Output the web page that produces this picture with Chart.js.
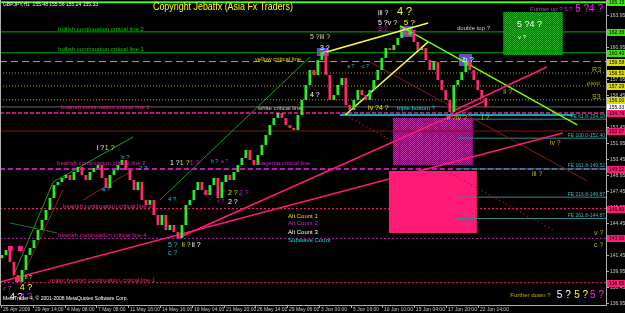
<!DOCTYPE html>
<html>
<head>
<meta charset="utf-8">
<script src="https://cdn.jsdelivr.net/npm/chart.js@4.4.1/dist/chart.umd.min.js"></script>
<style>
  html, body { margin: 0; padding: 0; background: #000; }
</style>
</head>
<body>
<canvas id="chart" width="625" height="313"></canvas>
<script>
// GBPJPY H1, one close every 8 bars (bar 0 = 26 Apr 2009)
const firstBar = 2
const barStep = 8.05
const closes = [
  141.45, 141.92, 140.79, 139.57, 138.92, 140.04, 141.45, 142.10, 142.85, 143.79,
  144.73, 145.67, 146.79, 148.01, 148.29, 148.67, 148.95, 148.48, 149.23, 149.70,
  148.95, 148.48, 149.23, 149.60, 149.88, 148.67, 147.73, 148.95, 149.41, 149.88,
  150.35, 149.41, 148.48, 147.54, 148.29, 146.60, 146.13, 146.60, 145.20, 144.26,
  145.20, 143.79, 144.26, 143.60, 143.04, 144.26, 146.13, 146.60, 147.54, 148.29,
  147.54, 147.07, 148.01, 148.67, 146.79, 148.29, 148.95, 148.48, 149.23, 149.88,
  150.54, 151.29, 150.35, 149.88, 150.82, 151.76, 152.70, 153.63, 154.29, 154.76,
  154.29, 153.63, 153.35, 153.16, 154.57, 155.98, 157.38, 158.79, 158.32, 159.72,
  160.47, 158.32, 155.98, 156.44, 157.38, 158.04, 155.51, 155.04, 155.98, 156.91,
  156.44, 155.98, 156.91, 157.85, 158.79, 159.91, 160.85, 160.66, 161.13, 161.79,
  162.35, 162.07, 162.54, 161.41, 160.66, 160.85, 159.72, 158.79, 159.54, 157.85,
  156.91, 155.98, 154.85, 157.38, 157.85, 158.60, 159.54, 158.79, 157.85, 156.91,
  156.16, 155.32
]

const timeTicks = [0, 64, 128, 192, 256, 320, 384, 448, 512, 576, 640, 704, 768, 832, 896, 960]
const timeLabels = ['26 Apr 2009', '29 Apr 14:00', '4 May 08:00', '7 May 08:00', '11 May 16:00',
  '14 May 16:00', '19 May 04:00', '21 May 20:00', '26 May 14:00', '29 May 06:00', '3 Jun 00:00',
  '5 Jun 16:00', '10 Jun 10:00', '15 Jun 04:00', '17 Jun 20:00', '22 Jun 14:00']

const priceTicks = [136.95, 138.45, 139.95, 141.45, 142.95, 144.45, 145.95, 147.45, 148.95, 150.45,
  151.95, 153.45, 154.95, 156.45, 157.95, 159.45, 160.95, 162.45, 163.95]
const priceTickLabels = ['136.95', '138.45', '139.95', '141.45', '142.95', '144.45', '145.95', '147.45',
  '148.95', '150.45', '151.95', '153.45', '154.95', '156.45', '157.95', '159.45', '160.95', '162.45', '163.95']

// horizontal levels across the whole chart
const levelPrices = [165.15, 162.36, 160.40, 159.58, 158.51, 157.29, 156.00, 155.33, 154.76, 153.07, 149.52, 145.80, 143.00, 138.85]
const levelStyles = [
  ['#33ff00', 2, []], ['#00b000', 1, []], ['#00b000', 1, []], ['#b5b500', 1, [7, 4]],
  ['#a8a800', 1, [1, 2]], ['#a8a800', 1, [1, 2]], ['#a8a800', 1, [1, 2]], ['#5a6a6a', 1, []],
  ['#ff1a8c', 1.5, [4, 2]], ['#8b1010', 1, []], ['#b020b0', 2, [5, 3]], ['#ff1a75', 1, [2, 2]],
  ['#b020a0', 1, [2, 2]], ['#ff1a75', 1, [2, 2]]
]
const levelBoxColors = ['#44ee11', '#44dd11', '#44dd11', '#dddd00', '#dddd00', '#dddd00', '#dddd00',
  '#ffffff', '#ff1a75', '#ff1a75', '#ff1a75', '#ff1a75', '#ff1a75', '#ff1a75']

// fibonacci expansion levels (start bar, price)
const feStarts = [950, 920, 918, 918, 918]
const fePrices = [154.18, 152.40, 149.52, 146.87, 144.87]
const feLabels = ['FE 61.8-154.18', 'FE 100.0-152.40', 'FE 161.8-149.52', 'FE 216.8-146.87', 'FE 261.8-144.87']

// trend lines: bar1, price1, bar2, price2
const trendLines = [
  [356, 143.04, 974, 155.88], [-2, 138.92, 1131, 152.89], [910, 154.95, 1099, 159.07],
  [803, 162.92, 1160, 153.64], [648, 160.38, 860, 163.20], [693, 154.57, 860, 161.42],
  [743, 159.54, 1180, 148.39], [693, 154.57, 1111, 143.79], [320, 146.60, 622, 160.01],
  [380, 144.54, 612, 156.26], [105, 148.29, 266, 152.51], [24, 139.39, 105, 148.29],
  [38, 139.01, 125, 147.54], [165, 146.60, 266, 149.41], [18, 144.45, 113, 143.51],
  [682, 154.57, 1152, 154.57]
]
const trendStyles = [
  ['#ff1a75', 1.5, []], ['#ff1a75', 1.5, []], ['#ff1a75', 1.5, []],
  ['#7cfc00', 1.5, []], ['#ffff33', 1.5, []], ['#ffff33', 1.5, []],
  ['#8b1a1a', 1, []], ['#a02020', 1.5, [1, 3]], ['#1a9c1a', 1, []],
  ['#a02020', 1, [1, 2]], ['#1a9c1a', 1, []], ['#1a9c1a', 1, []],
  ['#8b2a1a', 1, []], ['#8b2a1a', 1, []], ['#1a7a1a', 1, []],
  ['#00e5ff', 1.5, []]
]

// rectangles: bar1, price1, bar2, price2
const boxes = [
  [1011, 164.23, 1131, 160.20], [789, 154.29, 950, 149.89], [781, 149.33, 958, 143.51],
  [636, 160.85, 660, 160.10], [803, 162.92, 829, 161.88], [922, 160.29, 948, 159.16],
  [14, 142.29, 24, 141.82], [34, 142.29, 44, 141.82], [28, 139.39, 38, 138.92]
]
const boxFills = ['greenHatch', 'magentaHatch', '#ff1a75', '#5a4fcf', '#5a4fcf', '#5a4fcf', '#ff1a8c', '#ff1a8c', '#ff1a8c']

// text objects: text, bar, price, colour, font size
const notes = [
  ['GBPJPY,H1  155.48 155.56 155.24 155.33', 4, 164.88, '#ffffff', 5],
  ['Copyright Jebatfx (Asia Fx Traders)', 306, 164.70, '#ffff00', 10, 140],
  ['bullish continuation critical line 2', 115, 162.63, '#00cc00', 6],
  ['bullish continuation critical line 1', 115, 160.76, '#00cc00', 6],
  ['yellow critical line', 511, 159.82, '#d8d800', 6],
  ['bearish continuation critical line 1', 121, 155.32, '#e6208a', 6],
  ['white critical line', 517, 155.23, '#c8c8c8', 6],
  ['bearish continuation critical line 2', 113, 150.07, '#e020a8', 6],
  ['magenta critical line', 515, 150.07, '#d020d0', 6],
  ['bearish continuation critical line 3', 125, 146.04, '#ff2090', 6],
  ['bearish continuation critical line 4', 115, 143.32, '#e020a8', 6],
  ['major bearish continuation critical line 1', 99, 139.11, '#ff2080', 6],
  ['triple bottom ?', 797, 155.23, '#00e0ff', 6],
  ['iv ?4 ?', 739, 155.23, '#e0e000', 7],
  ['double top ?', 918, 162.73, '#d0d0d0', 6],
  ['Further up ? 5 ?', 1065, 164.51, '#c040c0', 6],
  ['5 ?4 ?', 1156, 164.51, '#ff20ff', 10],
  ['5 ?4 ?', 1039, 163.01, '#ffffff', 9],
  ['v ?', 1041, 161.88, '#ffffff', 6],
  ['b ?', 930, 159.73, '#ffffff', 8],
  ['R3', 1190, 158.79, '#b8b800', 7],
  ['pivot', 1180, 157.57, '#b8b800', 6],
  ['S3', 1190, 156.26, '#b8b800', 7],
  ['ii ?', 1011, 156.73, '#b8b800', 7],
  ['ii ?iv ?', 898, 154.29, '#c8c800', 7],
  ['i ?', 968, 154.29, '#c8c800', 7],
  ['iv ?', 1105, 151.95, '#b8b800', 7],
  ['iii ?', 1069, 149.04, '#b8b800', 7],
  ['v ?', 1194, 143.51, '#b8b800', 7],
  ['c ?', 1194, 142.39, '#b8b800', 7],
  ['Further down ?', 1025, 137.70, '#b8b800', 6],
  ['5 ?', 1119, 137.70, '#ffffff', 10],
  ['5 ?', 1154, 137.70, '#ffff00', 10],
  ['5 ?', 1186, 137.70, '#ff20ff', 10],
  ['Alt Count 1', 578, 145.11, '#e0e000', 6],
  ['Alt Count 2', 578, 144.45, '#d020d0', 6],
  ['Alt Count 3', 578, 143.61, '#ffffff', 6],
  ['Subwave Count', 578, 142.86, '#00e0e0', 6],
  ['iii ?', 759, 164.13, '#ffffff', 7],
  ['4 ?', 797, 164.23, '#ffff00', 11],
  ['5 ?v ?', 759, 163.20, '#ffffff', 7],
  ['5 ?', 811, 163.20, '#ffff00', 8],
  ['3 ?', 759, 162.63, '#d020d0', 7],
  ['5 ?iii ?', 622, 161.88, '#d8d8a0', 7],
  ['3 ?', 642, 160.85, '#ffffff', 7],
  ['4 ?', 622, 156.45, '#ffffff', 7],
  ['a ?', 697, 159.07, '#20c0e0', 5],
  ['c ?', 727, 159.07, '#20c0e0', 5],
  ['i ?', 193, 151.48, '#ffffff', 7],
  ['1 ?', 209, 151.48, '#e0e000', 7],
  ['b ?', 242, 150.64, '#20c0e0', 6],
  ['2 ?', 278, 149.60, '#20c0e0', 6],
  ['a ?', 203, 147.64, '#20c0e0', 6],
  ['1 ?', 340, 150.07, '#ffffff', 7],
  ['1 ?', 360, 150.07, '#e0e000', 7],
  ['1 ?', 380, 150.07, '#d020d0', 7],
  ['4 ?', 336, 146.70, '#20c0e0', 6],
  ['a ?', 407, 147.17, '#d020d0', 5],
  ['b ?', 423, 150.17, '#20c0e0', 5],
  ['a ?', 443, 150.17, '#d020d0', 5],
  ['2 ?', 457, 147.26, '#e0e000', 7],
  ['2 ?', 479, 147.26, '#d020d0', 7],
  ['c ?', 435, 146.42, '#d020d0', 5],
  ['2 ?', 457, 146.42, '#ffffff', 7],
  ['5 ?', 336, 142.39, '#20c0e0', 7],
  ['ii ?', 364, 142.39, '#e0e000', 7],
  ['ii ?', 384, 142.39, '#ffffff', 7],
  ['c ?', 336, 141.64, '#20c0e0', 7],
  ['b ?', 48, 139.29, '#e0e000', 5],
  ['c ?', 4, 138.36, '#d020d0', 6],
  ['4 ?', 38, 138.36, '#ffff00', 9],
  ['4 ?', 18, 137.51, '#ffffff', 9],
  ['4 ?', 38, 137.51, '#d020d0', 9],
  ['MetaTrader 4, \u00a9 2001-2008 MetaQuotes Software Corp.', 4, 137.32, '#ffffff', 5]
]

const FONT = "'Liberation Sans', Arial, sans-serif"
const upColor = '#2eea2e'
const downColor = '#ff2a68'

function checker (ctx, a, b) {
  const c = document.createElement('canvas')
  c.width = 2
  c.height = 2
  const g = c.getContext('2d')
  g.fillStyle = a
  g.fillRect(0, 0, 2, 2)
  g.fillStyle = b
  g.fillRect(0, 0, 1, 1)
  g.fillRect(1, 1, 1, 1)
  return ctx.createPattern(c, 'repeat')
}

const overlay = {
  id: 'overlay',
  beforeDraw (chart) {
    const ctx = chart.ctx
    ctx.save()
    ctx.fillStyle = '#000'
    ctx.fillRect(0, 0, chart.width, chart.height)
    ctx.restore()
  },
  beforeDatasetsDraw (chart) {
    const { ctx, scales: { x, y } } = chart
    const hatch = {
      greenHatch: checker(ctx, '#0e6a0e', '#22a822'),
      magentaHatch: checker(ctx, '#5a1060', '#b5289d')
    }
    ctx.save()
    boxes.forEach((b, i) => {
      const x1 = x.getPixelForValue(b[0])
      const x2 = x.getPixelForValue(b[2])
      const y1 = y.getPixelForValue(b[1])
      const y2 = y.getPixelForValue(b[3])
      ctx.fillStyle = hatch[boxFills[i]] || boxFills[i]
      ctx.fillRect(x1, y1, x2 - x1, y2 - y1)
    })
    ctx.restore()
  },
  afterDatasetsDraw (chart) {
    const { ctx, scales: { x, y } } = chart
    ctx.save()
    ctx.textBaseline = 'middle'
    ctx.textAlign = 'left'
    notes.forEach(n => {
      ctx.font = n[4] + 'px ' + FONT
      ctx.fillStyle = n[3]
      if (n[5]) ctx.fillText(n[0], x.getPixelForValue(n[1]), y.getPixelForValue(n[2]), n[5])
      else ctx.fillText(n[0], x.getPixelForValue(n[1]), y.getPixelForValue(n[2]))
    })
    ctx.textAlign = 'right'
    ctx.font = '5px ' + FONT
    ctx.fillStyle = '#3fb5b5'
    feLabels.forEach((t, i) => {
      ctx.fillText(t, chart.chartArea.right - 1, y.getPixelForValue(fePrices[i]) - 3)
    })
    ctx.restore()
  },
  afterDraw (chart) {
    const { ctx, chartArea: { left, right, top, bottom }, scales: { x, y } } = chart
    ctx.save()
    ctx.strokeStyle = '#b0b0b0'
    ctx.lineWidth = 1
    ctx.beginPath()
    ctx.moveTo(left + 0.5, top)
    ctx.lineTo(left + 0.5, bottom + 0.5)
    ctx.lineTo(right + 0.5, bottom + 0.5)
    ctx.lineTo(right + 0.5, top)
    ctx.stroke()

    ctx.font = '5px ' + FONT
    ctx.fillStyle = '#c8c8c8'
    ctx.textBaseline = 'middle'
    ctx.textAlign = 'left'
    priceTicks.forEach((p, i) => {
      const py = Math.round(y.getPixelForValue(p)) + 0.5
      ctx.beginPath()
      ctx.moveTo(right, py)
      ctx.lineTo(right + 3, py)
      ctx.stroke()
      ctx.fillText(priceTickLabels[i], right + 4, py)
    })

    levelPrices.forEach((p, i) => {
      const py = Math.round(y.getPixelForValue(p))
      ctx.fillStyle = levelBoxColors[i]
      ctx.fillRect(right + 1, py - 3, chart.width - right - 1, 7)
      ctx.fillStyle = '#000'
      ctx.fillText(p.toFixed(2), right + 3, py + 0.5)
    })

    ctx.textBaseline = 'top'
    ctx.fillStyle = '#c8c8c8'
    timeTicks.forEach((t, i) => {
      const px = Math.round(x.getPixelForValue(t)) + 0.5
      ctx.beginPath()
      ctx.moveTo(px, bottom)
      ctx.lineTo(px, bottom + 3)
      ctx.stroke()
      ctx.fillText(timeLabels[i], px + 1.5, bottom + 2)
    })
    ctx.restore()
  }
}

function segment (x1, y1, x2, y2, style, order) {
  return {
    type: 'line',
    data: [{ x: x1, y: y1 }, { x: x2, y: y2 }],
    borderColor: style[0],
    borderWidth: style[1],
    borderDash: style[2],
    pointRadius: 0,
    fill: false,
    tension: 0,
    order: order
  }
}

const candleData = closes.map((c, i) => ({
  x: firstBar + i * barStep,
  y: [i ? closes[i - 1] : c - 0.3, c]
}))

const datasets = [{
  type: 'bar',
  data: candleData,
  backgroundColor: candleData.map(d => d.y[1] >= d.y[0] ? upColor : downColor),
  barPercentage: 0.7,
  categoryPercentage: 1,
  borderWidth: 0,
  order: 0
}]
levelPrices.forEach((p, i) => datasets.push(segment(-2, p, 1218, p, levelStyles[i], 3)))
fePrices.forEach((p, i) => datasets.push(segment(feStarts[i], p, 1218, p, ['#2a8f8f', 1, []], 2)))
trendLines.forEach((t, i) => datasets.push(segment(t[0], t[1], t[2], t[3], trendStyles[i], 1)))

new Chart(document.getElementById('chart').getContext('2d'), {
  type: 'bar',
  data: { datasets: datasets },
  options: {
    responsive: false,
    animation: false,
    layout: { padding: { left: 0, top: 0, right: 19, bottom: 8 } },
    plugins: { legend: { display: false }, tooltip: { enabled: false } },
    scales: {
      x: { type: 'linear', min: -2, max: 1218, display: false, offset: false },
      y: { min: 136.76, max: 165.35, display: false }
    }
  },
  plugins: [overlay]
})
</script>
</body>
</html>
